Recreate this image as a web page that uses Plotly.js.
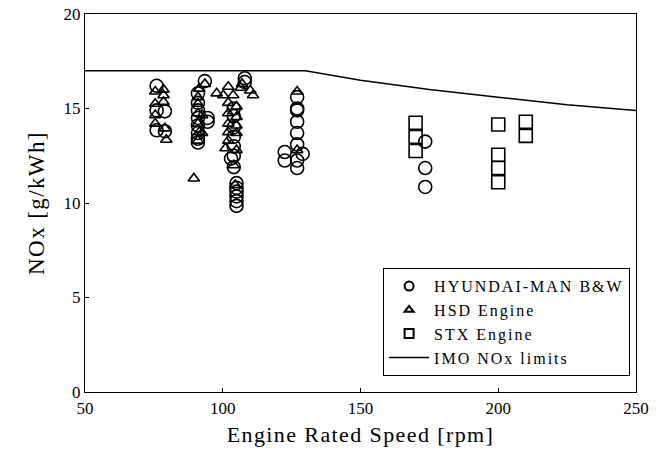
<!DOCTYPE html>
<html><head><meta charset="utf-8">
<script src="https://cdn.plot.ly/plotly-3.0.1.min.js"></script>
<style>
html,body{margin:0;padding:0;background:#fff}
.legendtext{letter-spacing:2px}
.xtitle,.ytitle{letter-spacing:1.4px}
</style>
</head><body><div id="chart" style="width:667px;height:461px"></div>
<script>
// HYUNDAI-MAN B&W (circles)
const hyundaiX = [76,76,76,79,79, 93.5,91,91,91,91,91,91,91,91,94.5,94.5, 108,108,104,104,104,104,104,104,103,104, 105,105,105,105,105,105, 127,127,127,127,127,127,127,127,122.5,122.5,129, 173.5,173.5,173.5];
const hyundaiY = [16.2,14.9,13.85,14.85,13.8, 16.45,15.8,15.3,14.9,14.5,14.1,13.7,13.4,13.2,14.5,14.3, 16.6,16.4,15.0,14.6,14.0,13.5,13.0,12.5,12.35,11.9, 11.05,10.8,10.6,10.35,10.1,9.85, 15.6,15.0,14.9,14.3,13.7,13.1,12.25,11.85,12.7,12.25,12.6, 13.25,11.85,10.85];
// HSD Engine (triangles)
const hsdX = [75.5,75.5,75.5,75.5, 78.5,78.5,78.5,79,79.5, 93.5,91.5,91,91,91,92.5,91,91.5,91,92.5, 89.5, 97.8,100.2,102,103.8, 107,106.5,110,111, 102,102,102,102,102,101, 105,105,105,105,105,104,104.5, 127,127];
const hsdY = [15.9,15.25,14.65,14.2, 16.0,15.7,15.35,13.95,13.35, 16.3,16.05,15.6,15.25,14.75,14.65,14.2,13.75,13.3,13.7, 11.3, 15.8,15.7,16.15,15.7, 16.3,16.1,15.95,15.7, 15.3,14.75,14.2,13.75,13.3,12.9, 15.1,14.55,14.1,13.7,12.8,12.0,10.95, 15.9,12.8];
// STX Engine (squares)
const stxX = [170,170,170, 200,200,200,200, 210,210];
const stxY = [14.25,13.5,12.75, 14.15,12.55,11.85,11.1, 14.3,13.55];
// IMO NOx limits
const imoX = [50,130,150,175,200,225,250];
const imoY = [17.0,17.0,16.5,16.0,15.6,15.2,14.9];
// Legend labels
const names = ['HYUNDAI-MAN B&W', 'HSD Engine', 'STX Engine', 'IMO NOx limits'];

const font = 'Liberation Serif, Times New Roman, serif';
const mk = (sym, size, w) => ({symbol: sym, size: size, color: '#000', line: {color: '#000', width: w}});
const traces = [
  {x: hyundaiX, y: hyundaiY, type: 'scatter', mode: 'markers', showlegend: false, marker: mk('circle-open', 13, 1.6)},
  {x: hsdX, y: hsdY, type: 'scatter', mode: 'markers', showlegend: false, marker: mk('triangle-up-open', 10, 1.6)},
  {x: stxX, y: stxY, type: 'scatter', mode: 'markers', showlegend: false, marker: mk('square-open', 13, 1.6)},
  {x: imoX, y: imoY, type: 'scatter', mode: 'lines', showlegend: false, line: {color: '#000', width: 1.5}},
  // legend-only entries (no data) with smaller symbols like the reference key
  {x: [null], y: [null], type: 'scatter', mode: 'markers', name: names[0], marker: mk('circle-open', 9, 2)},
  {x: [null], y: [null], type: 'scatter', mode: 'markers', name: names[1], marker: mk('triangle-up-open', 8, 2)},
  {x: [null], y: [null], type: 'scatter', mode: 'markers', name: names[2], marker: mk('square-open', 9, 2)},
  {x: [null], y: [null], type: 'scatter', mode: 'lines', name: names[3], line: {color: '#000', width: 1.5}}
];
const axisCommon = {
  showgrid: false, zeroline: false, showline: true, mirror: true, linecolor: '#000', linewidth: 1.2,
  ticks: 'inside', ticklen: 4, tickcolor: '#000', tickfont: {family: font, size: 17, color: '#000'}
};
const layout = {
  width: 667, height: 461,
  margin: {l: 85, r: 31, t: 14, b: 69},
  paper_bgcolor: '#fff', plot_bgcolor: '#fff',
  showlegend: true,
  legend: {x: 0.541, y: 0.042, xanchor: 'left', yanchor: 'bottom', bordercolor: '#000', borderwidth: 1,
           bgcolor: '#fff', font: {family: font, size: 16, color: '#000'}, tracegroupgap: 0, itemwidth: 40},
  xaxis: Object.assign({}, axisCommon, {range: [50, 250], dtick: 50, tick0: 50,
    title: {text: 'Engine Rated Speed [rpm]', font: {family: font, size: 22, color: '#000'}, standoff: 10}}),
  yaxis: Object.assign({}, axisCommon, {range: [0, 20], dtick: 5, tick0: 0,
    title: {text: 'NOx [g/kWh]', font: {family: font, size: 23, color: '#000'}, standoff: 12}})
};
Plotly.newPlot('chart', traces, layout, {displayModeBar: false, staticPlot: true});
</script></body></html>
